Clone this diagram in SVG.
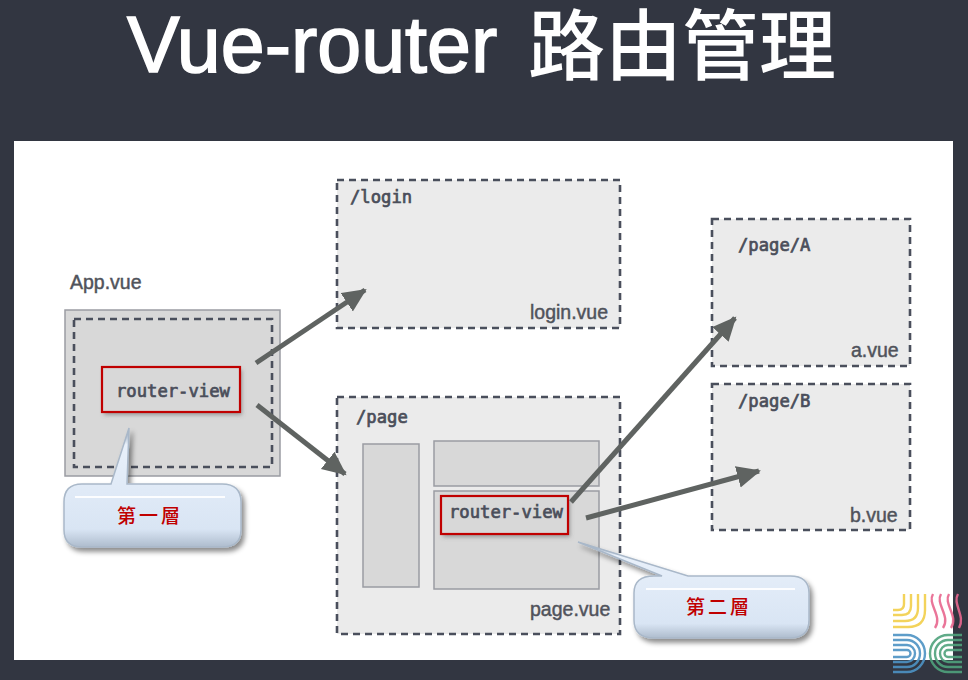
<svg xmlns="http://www.w3.org/2000/svg" width="968" height="680" viewBox="0 0 968 680">
<style>
.dash{fill:#ebebeb;stroke:#4a4f5c;stroke-width:2.6;stroke-dasharray:7 5}
.inner{fill:#d8d8d8;stroke:#9a9ca3;stroke-width:1.5}
.sans{font-family:"Liberation Sans","Noto Sans",sans-serif;fill:#50535b;font-size:19.5px;stroke:#50535b;stroke-width:.45}
.mono{font-family:"DejaVu Sans Mono","Liberation Mono",monospace;fill:#4a4e5a;font-size:17.2px;stroke:#4a4e5a;stroke-width:.7}
.red{fill:none;stroke:#c00000;stroke-width:2.2}
.cjk{font-family:"Noto Sans CJK TC","Noto Sans CJK SC",serif;fill:#c00000;font-size:19px;font-weight:500;letter-spacing:3px}
.conn{fill:none;stroke:#5f6361;stroke-width:5}
.call{fill:url(#cg);stroke:#a9b8c9;stroke-width:1.5;filter:url(#sh)}
.hi{fill:none;stroke:#fff;stroke-width:2;opacity:.9}
.logo{fill:none;stroke-width:2.4;opacity:.9}
</style>
<defs>
<marker id="arr" markerUnits="userSpaceOnUse" markerWidth="26" markerHeight="24" refX="22" refY="11" orient="auto"><path d="M0 0L24 11L0 22z" fill="#5f6361"/></marker>
<linearGradient id="cg" x1="0" y1="0" x2="0" y2="1"><stop offset="0" stop-color="#8496ab"/><stop offset=".14" stop-color="#e8f0fa"/><stop offset=".85" stop-color="#d9e5f4"/><stop offset="1" stop-color="#aebccd"/></linearGradient>
<filter id="sh" x="-15%" y="-15%" width="130%" height="135%"><feDropShadow dx="3" dy="4" stdDeviation="2.5" flood-color="#000" flood-opacity=".45"/></filter>
<filter id="soft" x="-10%" y="-15%" width="125%" height="135%"><feDropShadow dx="2" dy="3" stdDeviation="2" flood-color="#555" flood-opacity=".5"/></filter>
</defs>
<rect width="968" height="680" fill="#323641"/>
<rect x="14" y="141" width="939" height="519" fill="#fff"/>
<g id="title">
<text x="127" y="72" font-family="Liberation Sans,sans-serif" font-size="79" fill="#fff" stroke="#fff" stroke-width="1.6">Vue-router</text>
<text x="528" y="74" font-family="'Noto Sans CJK SC','Noto Sans CJK TC',sans-serif" font-size="77" font-weight="500" fill="#fff">路由管理</text>
</g>
<g id="login"><rect class="dash" x="337" y="180" width="283" height="148"/><text class="mono" x="350" y="203">/login</text><text class="sans" x="530" y="319">login.vue</text></g>
<g id="pageA"><rect class="dash" x="712" y="219" width="198" height="147"/><text class="mono" x="738" y="251">/page/A</text><text class="sans" x="851" y="357">a.vue</text></g>
<g id="pageB"><rect class="dash" x="712" y="384" width="198" height="146"/><text class="mono" x="738" y="407">/page/B</text><text class="sans" x="850" y="522">b.vue</text></g>
<g id="app">
<text class="sans" x="70" y="289">App.vue</text>
<rect class="inner" x="65" y="310" width="215" height="166"/>
<rect x="74" y="319" width="198" height="148" fill="none" stroke="#4a4f5c" stroke-width="2.6" stroke-dasharray="7 5"/>
<rect x="102" y="367" width="138" height="45" fill="#d8d8d8" filter="url(#soft)"/>
<rect class="red" x="102" y="367" width="138" height="45"/>
<text class="mono" x="116" y="397">router-view</text>
</g>
<g id="page">
<rect class="dash" x="337" y="397" width="283" height="237"/>
<text class="mono" x="356" y="423">/page</text>
<rect class="inner" x="363" y="444" width="56" height="143"/>
<rect class="inner" x="434" y="441" width="165" height="45"/>
<rect class="inner" x="434" y="491" width="165" height="98"/>
<rect x="441" y="496" width="127" height="38" fill="#d8d8d8" filter="url(#soft)"/>
<rect class="red" x="441" y="496" width="127" height="38"/>
<text class="mono" x="449" y="518">router-view</text>
<text class="sans" x="530" y="616">page.vue</text>
</g>
<g id="connectors">
<path class="conn" marker-end="url(#arr)" d="M256 363L365 290"/>
<path class="conn" marker-end="url(#arr)" d="M257 405L345 474"/>
<path class="conn" marker-end="url(#arr)" d="M571 502L735 318"/>
<path class="conn" marker-end="url(#arr)" d="M586 518L759 471"/>
</g>
<g id="callout1">
<path class="call" d="M129 428L127 484H222Q241 484 241 502V530Q241 547 222 547H82Q64 547 64 530V502Q64 484 82 484H111Z"/>
<path class="hi" d="M75 497H225"/>
<text class="cjk" x="150" y="523" text-anchor="middle">第一層</text>
</g>
<g id="callout2">
<path class="call" d="M578 542L688 576H790Q809 576 809 593V620Q809 638 790 638H654Q634 638 634 620V593Q634 576 654 576H662Z"/>
<path class="hi" d="M646 589H795"/>
<text class="cjk" x="719" y="614" text-anchor="middle">第二層</text>
</g>
<g id="logo">
<g class="logo" stroke="#f2cf4a">
<path d="M904 594V604Q904 610 898 610H893"/><path d="M911 594V606Q911 615 902 615H893"/><path d="M918 594V608Q918 621 905 621H893"/><path d="M925 594V610Q925 627 908 627H893"/>
</g>
<g class="logo" stroke="#e8678f">
<path d="M933 594C927 604 943 616 935 628"/><path d="M941 594C935 604 951 616 943 628"/><path d="M949 594C943 604 959 616 951 628"/><path d="M958 594C952 604 966 616 959 628"/>
</g>
<g class="logo" stroke="#4d93c4">
<path d="M893 635H907A18 18.500 0 0 1 907 672H893"/><path d="M893 640H907A13 13.500 0 0 1 907 667H893"/><path d="M893 645H907A8 8.500 0 0 1 907 662H893"/><path d="M893 650H907A3.500 3.500 0 0 1 907 657H893"/>
</g>
<g class="logo" stroke="#4fa27c">
<path d="M962 635H948A18 18.500 0 0 0 948 672H962"/><path d="M962 640H948A13 13.500 0 0 0 948 667H962"/><path d="M962 645H948A8 8.500 0 0 0 948 662H962"/><path d="M962 650H948A3.500 3.500 0 0 0 948 657H962"/>
</g>
</g>
</svg>
